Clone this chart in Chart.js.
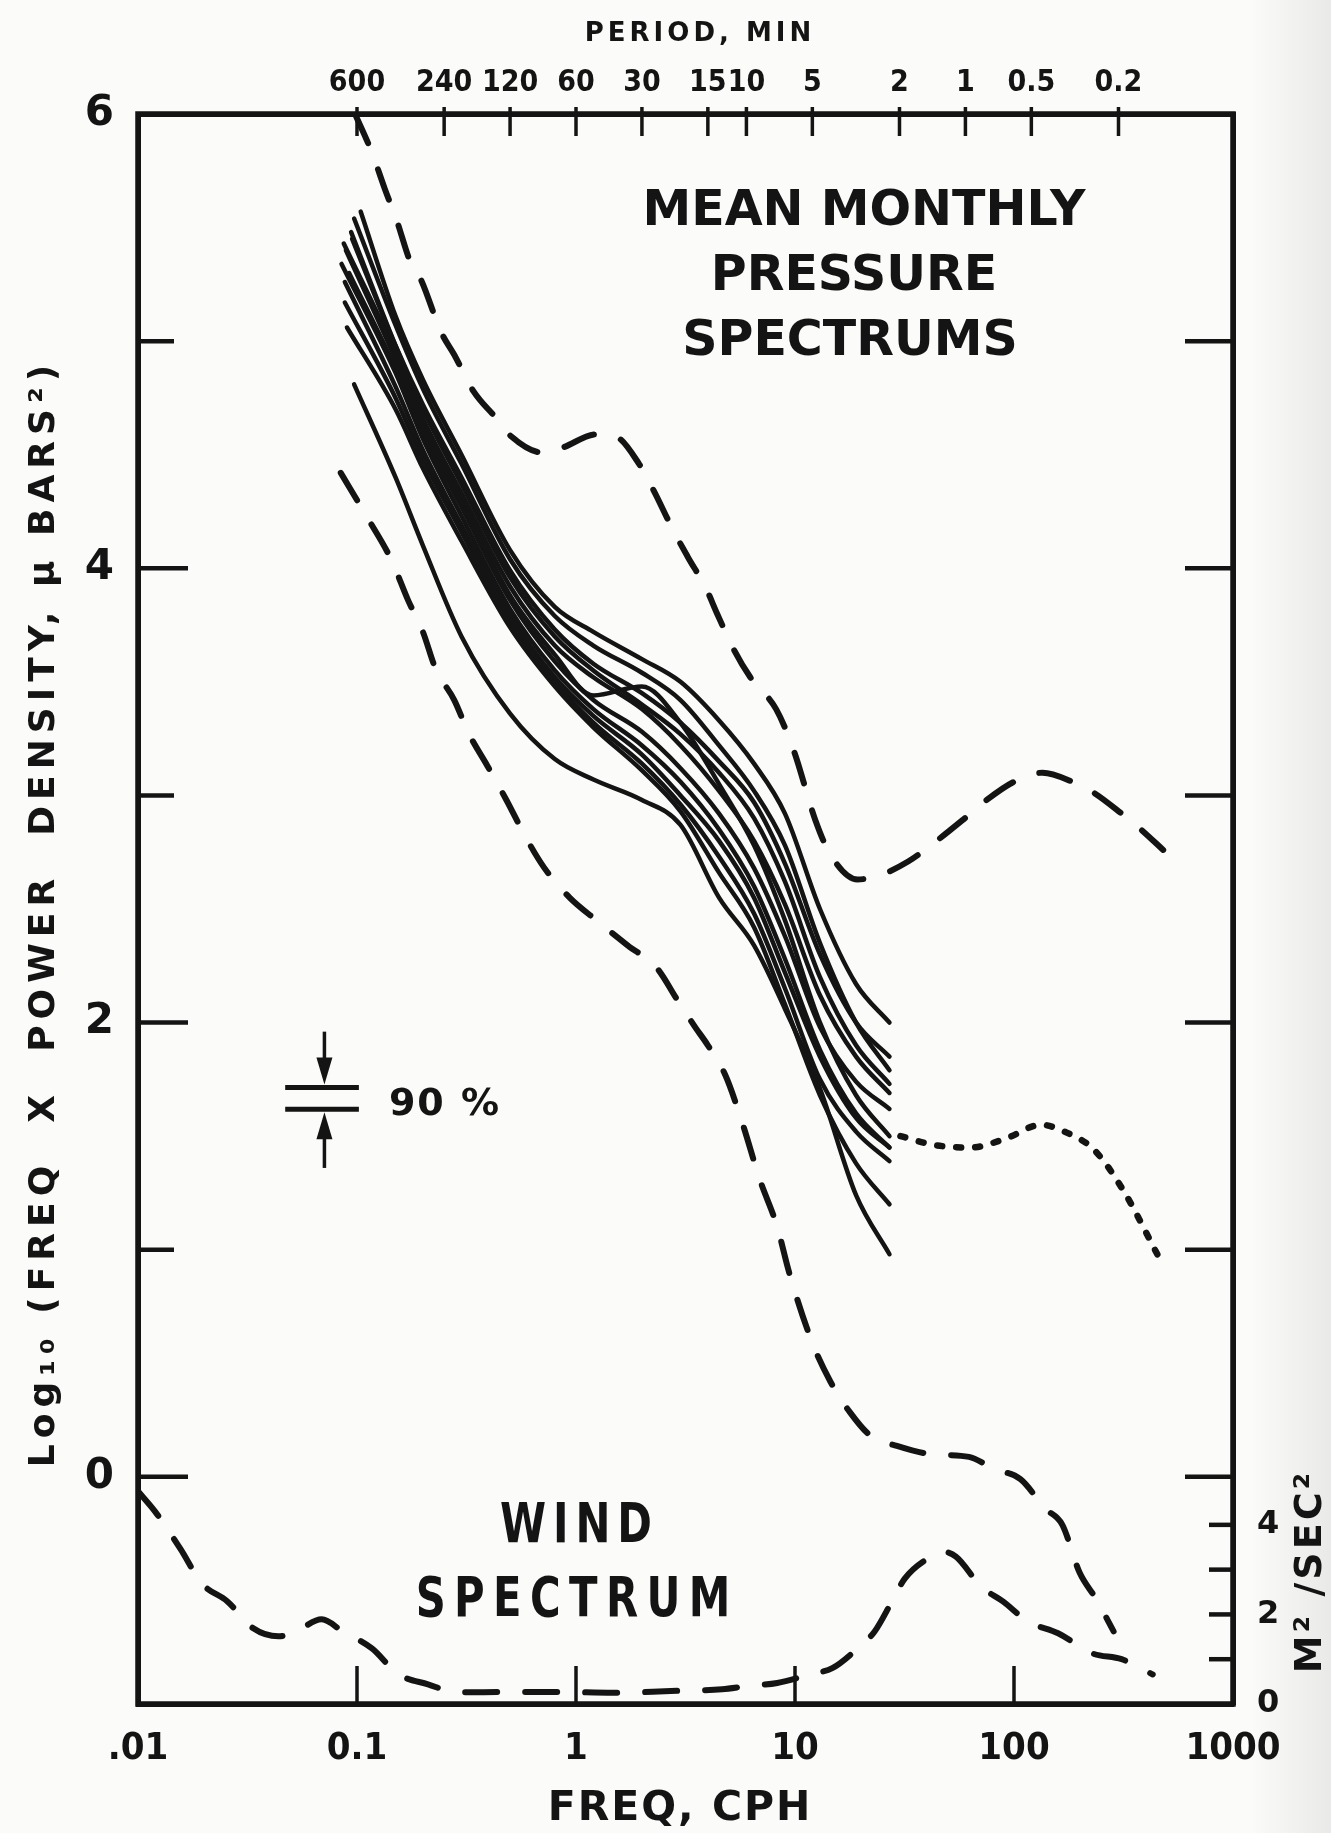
<!DOCTYPE html>
<html><head><meta charset="utf-8">
<script src="https://cdn.jsdelivr.net/npm/chart.js@4.4.1/dist/chart.umd.min.js"></script>
<style>html,body{margin:0;padding:0;background:#fbfbf9;overflow:hidden}canvas{display:block}</style>
</head><body>
<canvas id="c" width="1331" height="1833"></canvas>
<script>
// ---------------- data ----------------
const freqTicks = [0.01, 0.1, 1, 10, 100, 1000];
const freqTickLabels = ['.01', '0.1', '1', '10', '100', '1000'];
const freqInnerTicks = [0.1, 1, 10, 100];
const periodTicks = [600, 240, 120, 60, 30, 15, 10, 5, 2, 1, 0.5, 0.2];
const periodTickLabels = ['600', '240', '120', '60', '30', '15', '10', '5', '2', '1', '0.5', '0.2'];
const logTickLabels = [0, 2, 4, 6];
const logInnerTicks = [0, 1, 2, 3, 4, 5];
const windTickLabels = [0, 2, 4];
const windInnerTicks = [1, 2, 3, 4];

// solid monthly spectra: first value at solidStartFreq[i], the rest at solidFreq
const solidStartFreq = [0.104, 0.097, 0.095, 0.094, 0.087, 0.089, 0.092, 0.085, 0.088, 0.088, 0.090, 0.097];
const solidFreq = [0.15, 0.2, 0.3, 0.5, 0.8, 1.2, 2, 3, 4.5, 6.5, 9, 13, 19, 27];
const curve01 = [5.57, 5.11, 4.83, 4.50, 4.08, 3.83, 3.72, 3.60, 3.50, 3.33, 3.14, 2.92, 2.50, 2.17, 2.00];
const curve02 = [5.54, 5.07, 4.79, 4.46, 4.04, 3.79, 3.66, 3.54, 3.42, 3.22, 3.02, 2.78, 2.35, 2.00, 1.79];
const curve03 = [5.45, 4.98, 4.72, 4.40, 3.99, 3.73, 3.58, 3.45, 3.32, 3.15, 2.97, 2.70, 2.30, 2.00, 1.85];
const curve04 = [5.48, 4.98, 4.70, 4.37, 3.96, 3.70, 3.55, 3.40, 3.27, 3.10, 2.90, 2.62, 2.20, 1.90, 1.73];
const curve05 = [5.43, 4.95, 4.66, 4.33, 3.92, 3.66, 3.52, 3.38, 3.22, 3.02, 2.80, 2.52, 2.12, 1.85, 1.69];
const curve06 = [5.40, 4.92, 4.63, 4.30, 3.88, 3.62, 3.44, 3.48, 3.32, 3.05, 2.78, 2.45, 2.00, 1.68, 1.50];
const curve07 = [5.30, 4.88, 4.60, 4.27, 3.86, 3.59, 3.42, 3.28, 3.12, 2.92, 2.68, 2.38, 1.98, 1.74, 1.62];
const curve08 = [5.34, 4.86, 4.57, 4.23, 3.82, 3.55, 3.38, 3.22, 3.06, 2.85, 2.60, 2.28, 1.88, 1.60, 1.45];
const curve09 = [5.26, 4.80, 4.52, 4.19, 3.79, 3.52, 3.35, 3.18, 3.00, 2.80, 2.55, 2.22, 1.85, 1.58, 1.45];
const curve10 = [5.17, 4.75, 4.48, 4.16, 3.76, 3.50, 3.32, 3.14, 2.96, 2.73, 2.48, 2.15, 1.75, 1.52, 1.39];
const curve11 = [5.06, 4.70, 4.44, 4.12, 3.74, 3.48, 3.30, 3.11, 2.93, 2.66, 2.42, 2.08, 1.68, 1.38, 1.20];
const curve12 = [4.81, 4.40, 4.10, 3.70, 3.36, 3.16, 3.07, 2.98, 2.87, 2.55, 2.34, 2.06, 1.71, 1.24, 0.98];

// upper dashed envelope
const upperFreq = [0.098, 0.117, 0.134, 0.152, 0.175, 0.196, 0.242, 0.278, 0.34, 0.433, 0.507, 0.70, 0.86, 1.24, 1.52, 1.94, 2.27, 2.77, 3.24, 3.93, 4.41, 5.27, 6.25, 8.2, 9.85, 12.4, 14.5, 19.3, 24.6, 33, 43, 58, 75, 100, 135, 185, 233, 310, 380, 480];
const upperLog = [6.0, 5.83, 5.67, 5.53, 5.35, 5.27, 5.04, 4.94, 4.78, 4.66, 4.58, 4.51, 4.53, 4.59, 4.58, 4.46, 4.34, 4.17, 4.05, 3.91, 3.80, 3.64, 3.52, 3.38, 3.20, 2.89, 2.74, 2.63, 2.65, 2.71, 2.79, 2.89, 2.98, 3.06, 3.10, 3.06, 3.01, 2.92, 2.85, 2.76];

// lower dashed envelope
const lowerFreq = [0.0843, 0.112, 0.143, 0.171, 0.20, 0.228, 0.278, 0.325, 0.394, 0.481, 0.594, 0.718, 0.935, 1.24, 1.72, 2.34, 2.9, 3.5, 4.0, 4.8, 5.74, 6.9, 8.3, 9.4, 12.0, 14.5, 17.8, 22.2, 29.2, 41.7, 62.3, 81, 107, 139, 166, 199, 238, 285];
const lowerLog = [4.42, 4.22, 4.04, 3.86, 3.72, 3.56, 3.42, 3.27, 3.13, 2.98, 2.81, 2.68, 2.55, 2.45, 2.34, 2.24, 2.10, 1.98, 1.90, 1.77, 1.56, 1.31, 1.10, 0.90, 0.59, 0.42, 0.285, 0.18, 0.136, 0.10, 0.088, 0.035, -0.01, -0.14, -0.21, -0.42, -0.54, -0.68];

// dotted continuation
const dottedFreq = [30.3, 43.9, 63.5, 92, 133, 170, 232, 316, 457];
const dottedLog = [1.50, 1.46, 1.45, 1.49, 1.55, 1.52, 1.44, 1.26, 0.97];

// wind spectrum (M^2/SEC^2, right axis)
const windFreq = [0.01, 0.012, 0.0156, 0.0196, 0.0256, 0.0336, 0.0438, 0.0525, 0.069, 0.0861, 0.117, 0.154, 0.211, 0.286, 0.44, 0.84, 1.47, 2.71, 4.65, 6.05, 8.3, 11.9, 14.8, 19.3, 23.1, 27.7, 31.7, 41.7, 47, 54.3, 70.8, 89, 116, 159, 228, 310, 430];
const windMs = [4.75, 4.29, 3.47, 2.69, 2.29, 1.69, 1.51, 1.62, 1.89, 1.62, 1.24, 0.67, 0.44, 0.26, 0.27, 0.27, 0.25, 0.29, 0.33, 0.40, 0.47, 0.67, 0.80, 1.24, 1.62, 2.29, 2.80, 3.29, 3.40, 3.29, 2.62, 2.29, 1.84, 1.58, 1.13, 1.00, 0.66];

// 90% confidence bracket
const bracketFreq = [0.047, 0.102];
const bracketLevels = [1.714, 1.618];
const arrowFreq = 0.071;
const arrowTails = [1.96, 1.36];

// ---------------- drawing ----------------
const ink = '#141414';
const paper = '#fbfbf9';
const fam = '"DejaVu Sans", "Liberation Sans", sans-serif';
const famNarrow = '"DejaVu Sans Condensed", "Liberation Sans Narrow", "DejaVu Sans", sans-serif';

const pairs = (fs, vs) => fs.map((f, i) => ({x: f, y: vs[i]}));
const solidCurves = [curve01, curve02, curve03, curve04, curve05, curve06, curve07, curve08, curve09, curve10, curve11, curve12];

const datasets = solidCurves.map((vals, i) => ({
  data: vals.map((v, j) => ({x: j === 0 ? solidStartFreq[i] : solidFreq[j - 1], y: v})),
  borderColor: ink, borderWidth: 4.5, pointRadius: 0, cubicInterpolationMode: 'monotone',
  borderCapStyle: 'round', borderJoinStyle: 'round', fill: false
}));
const dashStyle = {borderColor: ink, borderWidth: 6, pointRadius: 0, cubicInterpolationMode: 'monotone',
  borderCapStyle: 'round', borderDash: [32, 28], fill: false};
datasets.push(Object.assign({data: pairs(upperFreq, upperLog)}, dashStyle));
datasets.push(Object.assign({data: pairs(lowerFreq, lowerLog)}, dashStyle));
datasets.push(Object.assign({data: pairs(windFreq, windMs), yAxisID: 'y2'}, dashStyle));
datasets.push({data: pairs(dottedFreq, dottedLog), borderColor: ink, borderWidth: 6.5, pointRadius: 0,
  cubicInterpolationMode: 'monotone', borderCapStyle: 'round', borderDash: [5, 14], fill: false});

const tickFont = (size, f) => ({family: f || fam, size: size, weight: 'bold'});
const noGrid = {display: false};
const frame = {display: true, width: 5, color: ink};

const decor = {
  id: 'decor',
  beforeDraw(chart) {
    const c = chart.ctx;
    c.save();
    c.fillStyle = paper;
    c.fillRect(0, 0, chart.width, chart.height);
    const g = c.createLinearGradient(1250, 0, 1331, 0);
    g.addColorStop(0, 'rgba(200,200,200,0)');
    g.addColorStop(1, 'rgba(200,200,200,0.35)');
    c.fillStyle = g;
    c.fillRect(1250, 0, 81, chart.height);
    c.restore();
  },
  afterDraw(chart) {
    const ctx = chart.ctx, a = chart.chartArea;
    const {x, x2, y, y2} = chart.scales;
    const seg = (xa, ya, xb, yb) => { ctx.beginPath(); ctx.moveTo(xa, ya); ctx.lineTo(xb, yb); ctx.stroke(); };
    ctx.save();
    ctx.strokeStyle = ink; ctx.fillStyle = ink; ctx.lineCap = 'butt';
    ctx.lineWidth = 5.5;
    ctx.strokeRect(a.left, a.top, a.right - a.left, a.bottom - a.top);
    // inner ticks
    ctx.lineWidth = 4.5;
    logInnerTicks.forEach(v => { const p = y.getPixelForValue(v); seg(a.left, p, a.left + (v % 2 === 0 ? 50 : 36), p); });
    logInnerTicks.forEach(v => { const p = y.getPixelForValue(v); seg(a.right, p, a.right - 48, p); });
    windInnerTicks.forEach(v => { const p = y2.getPixelForValue(v); seg(a.right, p, a.right - 24, p); });
    ctx.lineWidth = 3.5;
    periodTicks.forEach(per => { const p = x2.getPixelForValue(60 / per); seg(p, a.top - 7, p, a.top + 22); });
    freqInnerTicks.forEach(f => { const p = x.getPixelForValue(f); seg(p, a.bottom, p, a.bottom - 38); });

    // 90% bracket
    const bx1 = x.getPixelForValue(bracketFreq[0]), bx2 = x.getPixelForValue(bracketFreq[1]);
    const l1 = y.getPixelForValue(bracketLevels[0]), l2 = y.getPixelForValue(bracketLevels[1]);
    ctx.lineWidth = 5;
    seg(bx1, l1, bx2, l1); seg(bx1, l2, bx2, l2);
    const ax = x.getPixelForValue(arrowFreq);
    const t1 = y.getPixelForValue(arrowTails[0]), t2 = y.getPixelForValue(arrowTails[1]);
    ctx.lineWidth = 3.5;
    seg(ax, t1, ax, l1 - 20);
    seg(ax, t2, ax, l2 + 20);
    const head = (tipY, dir) => {
      ctx.beginPath(); ctx.moveTo(ax, tipY); ctx.lineTo(ax - 8, tipY - dir * 27); ctx.lineTo(ax + 8, tipY - dir * 27); ctx.closePath(); ctx.fill();
    };
    head(l1 - 3, 1);
    head(l2 + 3, -1);

    // texts
    const text = (s, cx, cy, size, o) => {
      o = o || {};
      ctx.save();
      ctx.font = 'bold ' + size + 'px ' + (o.fam || fam);
      const ls = o.ls || 0;
      ctx.letterSpacing = ls + 'px';
      ctx.textBaseline = 'middle'; ctx.textAlign = 'left';
      const w = ctx.measureText(s).width - ls;
      ctx.translate(cx, cy);
      if (o.rot) ctx.rotate(o.rot);
      ctx.scale(o.sx || 1, 1);
      ctx.fillText(s, -w / 2, 0);
      ctx.restore();
    };
    text('MEAN MONTHLY', 864, 212, 49);
    text('PRESSURE', 854, 277, 49);
    text('SPECTRUMS', 850, 342, 49);
    text('WIND', 576, 1528, 55, {sx: 0.76, ls: 9});
    text('SPECTRUM', 573, 1602, 55, {sx: 0.76, ls: 11});
    text('90 %', 444, 1105, 38, {ls: 2});
    text('PERIOD, MIN', 698, 34, 26, {ls: 4});
    text('FREQ, CPH', 679, 1809, 41, {ls: 2});
    text('Log\u2081\u2080 (FREQ  X  POWER  DENSITY, \u03BC BARS\u00B2)', 45, 916, 36, {rot: -Math.PI / 2, ls: 6});
    text('M\u00B2 /SEC\u00B2', 1311, 1573, 38, {rot: -Math.PI / 2, ls: 3});
    ctx.restore();
  }
};

new Chart(document.getElementById('c'), {
  type: 'line',
  data: {datasets: datasets},
  options: {
    responsive: false, animation: false, events: [],
    layout: {padding: 0},
    plugins: {legend: {display: false}, tooltip: {enabled: false}, title: {display: false}},
    scales: {
      x: {type: 'logarithmic', position: 'bottom', min: 0.01, max: 1000, grid: noGrid, border: frame,
        afterBuildTicks: s => { s.ticks = freqTicks.map(v => ({value: v})); },
        afterFit: s => { s.height = 129; },
        ticks: {autoSkip: false, maxRotation: 0, minRotation: 0, color: ink, padding: 14, font: tickFont(38, famNarrow),
          callback: (v, i) => freqTickLabels[i]}},
      x2: {type: 'logarithmic', position: 'top', min: 0.01, max: 1000, grid: noGrid, border: frame,
        afterBuildTicks: s => { s.ticks = periodTicks.map(p => ({value: 60 / p})); },
        afterFit: s => { s.height = 114; },
        ticks: {autoSkip: false, maxRotation: 0, minRotation: 0, color: ink, padding: 5, font: tickFont(30, famNarrow),
          callback: (v, i) => periodTickLabels[i]}},
      y: {type: 'linear', position: 'left', min: -1, max: 6, grid: noGrid, border: frame,
        afterBuildTicks: s => { s.ticks = logTickLabels.map(v => ({value: v})); },
        afterFit: s => { s.width = 138; },
        ticks: {color: ink, padding: 16, font: tickFont(42), callback: v => String(v)}},
      y2: {type: 'linear', position: 'right', min: 0, max: 35.5, grid: noGrid, border: frame,
        afterBuildTicks: s => { s.ticks = windTickLabels.map(v => ({value: v})); },
        afterFit: s => { s.width = 98; },
        ticks: {color: ink, padding: 16, font: tickFont(32), callback: v => String(v)}}
    }
  },
  plugins: [decor]
});
</script>
</body></html>
